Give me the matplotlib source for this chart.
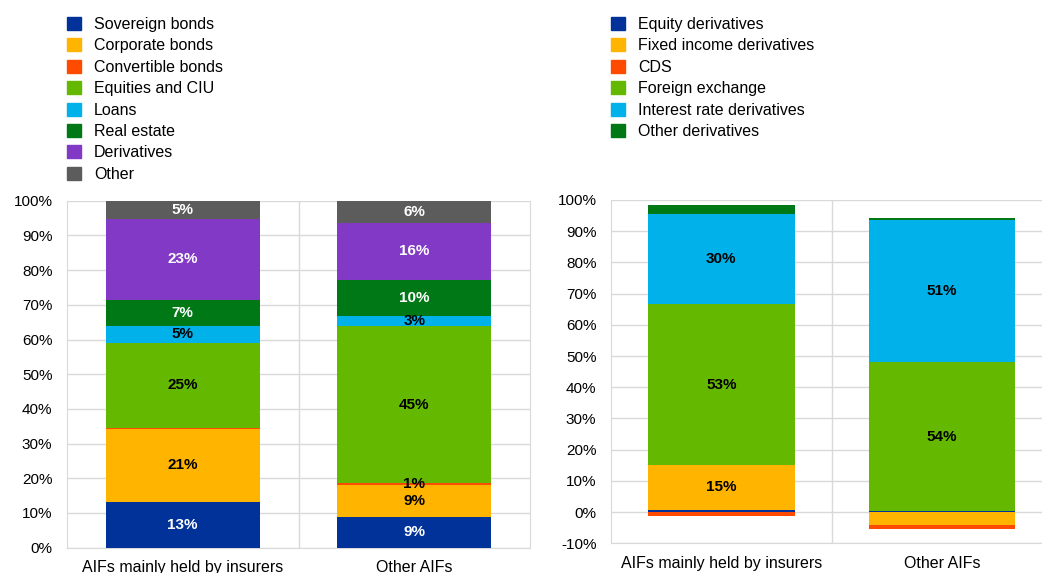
import matplotlib
matplotlib.use("Agg")
import matplotlib.pyplot as plt
from matplotlib.patches import Patch
import numpy as np

plt.rcParams['font.family'] = ['Liberation Sans', 'DejaVu Sans']
plt.rcParams['font.size'] = 11

categories = ["AIFs mainly held by insurers", "Other AIFs"]

# left panel: asset holdings (% of total assets)
asset_names = ["Sovereign bonds", "Corporate bonds", "Convertible bonds",
               "Equities and CIU", "Loans", "Real estate", "Derivatives", "Other"]
sovereign = [13.2, 8.8]
corporate = [21.0, 9.4]
convertible = [0.3, 0.5]
equities = [24.6, 45.1]
loans = [4.8, 3.0]
real_estate = [7.5, 10.4]
derivatives = [23.4, 16.4]
other = [5.2, 6.4]
asset_labels = [["13%", "9%"], ["21%", "9%"], ["", "1%"], ["25%", "45%"],
                ["5%", "3%"], ["7%", "10%"], ["23%", "16%"], ["5%", "6%"]]

# right panel: derivatives exposures
deriv_names = ["Equity derivatives", "Fixed income derivatives", "CDS",
               "Foreign exchange", "Interest rate derivatives", "Other derivatives"]
equity_deriv = [0.7, 0.4]
fixed_income = [14.4, -4.1]
cds = [-1.3, -1.4]
fx = [51.5, 47.6]
interest_rate = [29.0, 45.7]
other_deriv = [2.7, 0.4]
deriv_labels = [["", ""], ["15%", ""], ["", ""], ["53%", "54%"],
                ["30%", "51%"], ["", ""]]

colors = ["#003299", "#ffb400", "#ff4b00", "#65b800", "#00b1ea", "#007816",
          "#8139c6", "#5c5c5c"]
white_text = {"#003299", "#007816", "#8139c6", "#5c5c5c"}
grid_col = "#d9d9d9"

W, H = 1042, 573
fig = plt.figure(figsize=(W / 100, H / 100), dpi=100)


def stacked(ax, series, labels, width=0.665):
    x = np.arange(len(categories))
    pos = np.zeros(len(categories))
    neg = np.zeros(len(categories))
    for i, vals in enumerate(series):
        vals = np.array(vals) / 100.0
        bottom = np.where(vals >= 0, pos, neg)
        ax.bar(x, vals, width, bottom=bottom, color=colors[i], zorder=3)
        for j in range(len(categories)):
            if labels[i][j]:
                tc = "white" if colors[i] in white_text else "black"
                ax.text(x[j], bottom[j] + vals[j] / 2, labels[i][j], ha="center",
                        va="center", fontweight="bold", color=tc, zorder=4)
        pos = np.where(vals >= 0, pos + vals, pos)
        neg = np.where(vals < 0, neg + vals, neg)
    ax.set_xticks(x)
    ax.set_xticklabels(categories, fontsize=11.5)
    ax.axvline(0.5, color=grid_col, lw=1, zorder=1)
    ax.grid(axis="y", color=grid_col, lw=1, zorder=1)
    ax.yaxis.set_major_formatter(matplotlib.ticker.FuncFormatter(
        lambda v, p: "%d%%" % round(v * 100)))
    ax.tick_params(length=0)
    ax.tick_params(axis="y", pad=10.5)
    ax.tick_params(axis="x", pad=9)
    for s in ax.spines.values():
        s.set_color(grid_col)
    ax.spines["top"].set_visible(False)


ax1 = fig.add_axes([67 / W, 1 - 547.7 / H, 463 / W, 347 / H])
stacked(ax1, [sovereign, corporate, convertible, equities, loans, real_estate,
              derivatives, other], asset_labels)
ax1.set_xlim(-0.5, 1.5)
ax1.set_ylim(0, 1.0)
ax1.set_yticks(np.arange(0, 1.01, 0.1))

ax2 = fig.add_axes([611 / W, 1 - 543.3 / H, 431 / W, 343.3 / H])
stacked(ax2, [equity_deriv, fixed_income, cds, fx, interest_rate, other_deriv],
        deriv_labels)
ax2.set_xlim(-0.5, 1.453)
ax2.set_ylim(-0.1, 1.0)
ax2.set_yticks(np.arange(-0.1, 1.01, 0.1))
ax2.spines["right"].set_visible(False)

leg_kw = dict(loc="upper left", frameon=False, borderpad=0, borderaxespad=0,
              handlelength=0.875, handleheight=0.875, handletextpad=0.8,
              labelspacing=0.4, fontsize=11.5)
fig.legend([Patch(color=c) for c in colors], asset_names,
           bbox_to_anchor=(67 / W, 1 - 17 / H), **leg_kw)
fig.legend([Patch(color=c) for c in colors[:6]], deriv_names,
           bbox_to_anchor=(611 / W, 1 - 17 / H), **leg_kw)

fig.savefig("out.png", dpi=100)
